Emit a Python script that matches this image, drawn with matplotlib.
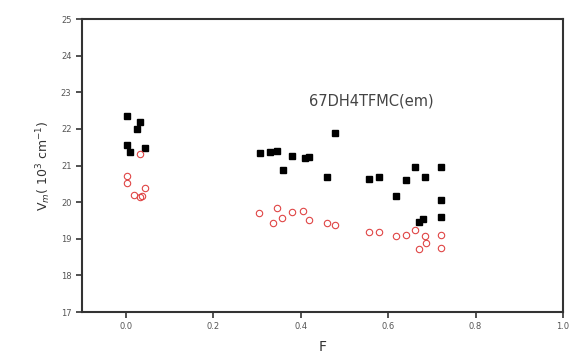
import matplotlib
matplotlib.use("Agg")
import matplotlib.pyplot as plt

# Black filled squares (absorption)
abs_F = [0.002, 0.032, 0.025, 0.002, 0.009, 0.045,
         0.308, 0.330, 0.345, 0.360, 0.380, 0.410, 0.419, 0.460, 0.478,
         0.557, 0.580, 0.618, 0.641, 0.661, 0.684, 0.670, 0.680,
         0.722, 0.722, 0.722]
abs_V = [22.35, 22.19, 22.00, 21.55, 21.37, 21.48,
         21.34, 21.36, 21.40, 20.87, 21.26, 21.20, 21.23, 20.68, 21.88,
         20.63, 20.68, 20.16, 20.60, 20.96, 20.68, 19.45, 19.53,
         20.96, 20.05, 19.59]

# Red open circles (emission)
em_F = [0.002, 0.002, 0.018, 0.032, 0.045, 0.032, 0.038,
        0.306, 0.337, 0.346, 0.357, 0.380, 0.405, 0.419, 0.460, 0.478,
        0.557, 0.580, 0.618, 0.641, 0.661, 0.684, 0.686, 0.670,
        0.722, 0.722]
em_V = [20.71, 20.52, 20.19, 20.14, 20.38, 21.31, 20.16,
        19.70, 19.43, 19.84, 19.58, 19.73, 19.75, 19.50, 19.43, 19.38,
        19.18, 19.18, 19.07, 19.10, 19.23, 19.07, 18.88, 18.72,
        19.10, 18.75]

xticks = [0.0, 0.2, 0.4, 0.6, 0.8, 1.0]
yticks = [17, 18, 19, 20, 21, 22, 23, 24, 25]

fig = plt.figure(figsize=(5.81, 3.53), dpi=100)
ax = fig.add_axes([0.141, 0.116, 0.828, 0.830])

ax.plot(abs_F, abs_V, linestyle='none', marker='s', markersize=4.5,
        color='black', markeredgecolor='black')
ax.plot(em_F, em_V, linestyle='none', marker='o', markersize=4.6,
        markerfacecolor='none', markeredgecolor='#e04545', markeredgewidth=0.8)

ax.set_xlim(-0.1, 1.0)
ax.set_ylim(17, 25)
ax.set_xticks(xticks)
ax.set_yticks(yticks)
ax.set_xticklabels([f"{t:.1f}" for t in xticks])
ax.set_yticklabels([str(t) for t in yticks])
ax.tick_params(axis='both', direction='out', length=4, width=1.2,
               labelsize=6, colors='#333333', labelcolor='#555555')
for s in ax.spines.values():
    s.set_linewidth(1.5)
    s.set_color('#333333')

ax.set_xlabel('F', fontsize=10, color='#333333', labelpad=6)
ax.set_ylabel(r'V$_{m}$( 10$^{3}$ cm$^{-1}$)', fontsize=9, color='#333333', labelpad=6)

ax.text(0.42, 22.75, '67DH4TFMC(em)', fontsize=10.5, color='#444444',
        transform=ax.transData, ha='left', va='center')

fig.savefig('out.png', dpi=100)
